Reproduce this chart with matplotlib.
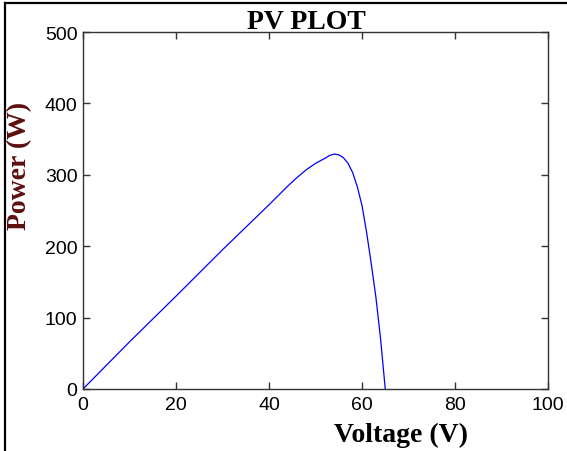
import matplotlib
matplotlib.use("Agg")
import matplotlib.pyplot as plt
from matplotlib.lines import Line2D

# PV curve
voltage = [0, 10, 20, 30, 40, 44, 46, 48, 50, 52, 53, 54, 55, 56, 57, 58, 59, 60, 61, 62, 63, 64, 65]
power = [0, 66, 130, 195, 258, 284, 296, 307, 316, 323, 327, 329, 328, 324, 316, 303, 283, 257, 219, 175, 128, 70, 0]

W, H = 567, 452
fig = plt.figure(figsize=(W / 100, H / 100), dpi=100)
ax = fig.add_axes([83 / W, 1 - 390 / H, 465 / W, 357 / H])

ax.plot(voltage, power, color="#0000ff", linewidth=0.9)
ax.set_xlim(0, 100)
ax.set_ylim(0, 500)
ax.set_xticks([0, 20, 40, 60, 80, 100])
ax.set_yticks([0, 100, 200, 300, 400, 500])

for s in ax.spines.values():
    s.set_color("#333333")
    s.set_linewidth(1.0)
ax.tick_params(direction="in", length=5, width=1, color="#333333",
               top=True, right=True, labelsize=14)
ax.tick_params(axis="x", pad=5)
ax.tick_params(axis="y", pad=4)
for lab in ax.get_xticklabels() + ax.get_yticklabels():
    lab.set_family("Liberation Sans")

ax.set_title("PV PLOT", family="Liberation Serif", fontweight="bold",
             fontsize=20, x=0.48, pad=3)
ax.set_xlabel("Voltage (V)", family="Liberation Serif", fontweight="bold",
              fontsize=20)
ax.xaxis.set_label_coords(0.684, -0.093)
ax.set_ylabel("Power (W)", family="Liberation Serif", fontweight="bold",
              fontsize=20, color="#5c0f0f")
ax.yaxis.set_label_coords(-0.11, 0.627)

# outer frame (left and top edges visible in the screenshot)
fig.add_artist(Line2D([5 / W, 5 / W], [0, 1 - 4 / H], transform=fig.transFigure,
                      color="black", linewidth=1.6))
fig.add_artist(Line2D([5 / W, 1], [1 - 4 / H, 1 - 4 / H], transform=fig.transFigure,
                      color="black", linewidth=1.6))

fig.savefig("out.png", dpi=100)
